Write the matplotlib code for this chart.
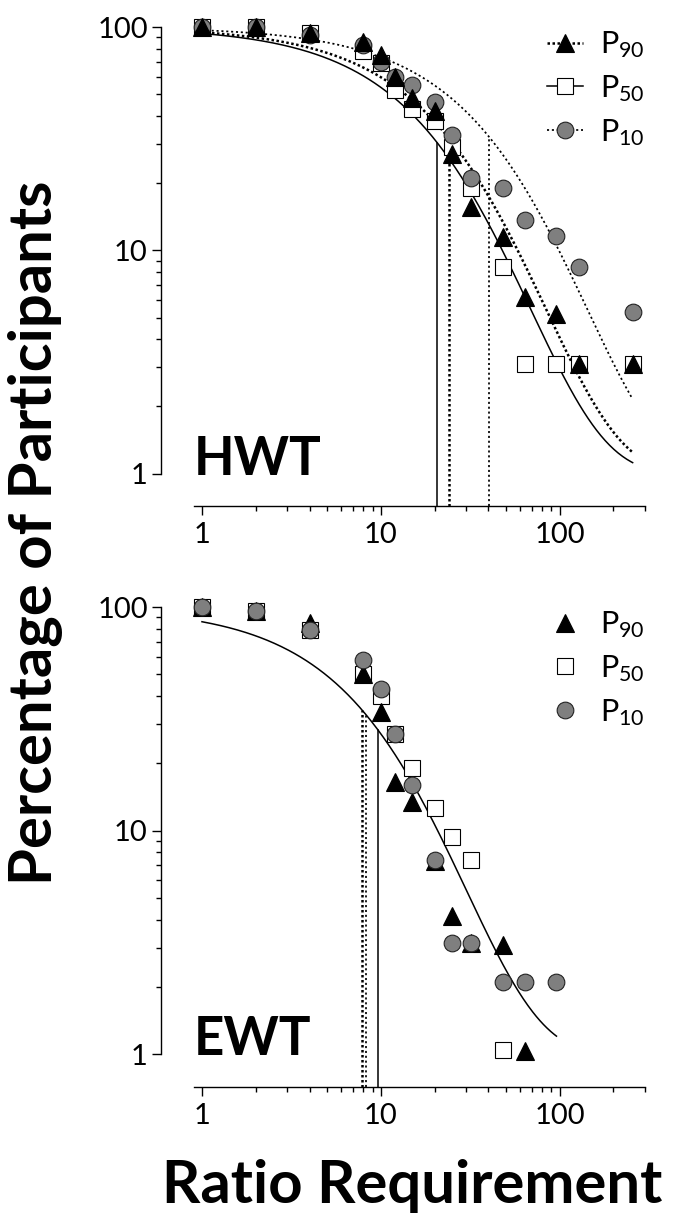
import numpy as np
import matplotlib
matplotlib.use("Agg")
import matplotlib.pyplot as plt
from matplotlib.lines import Line2D

plt.rcParams['font.family'] = ['Lato', 'DejaVu Sans']

# ratio requirements (x)
ratio = [1, 2, 4, 8, 10, 12, 15, 20, 25, 32, 48, 64, 96, 128, 256]

# HWT panel, percentage of participants
hwt_p90 = [100, 100, 94, 86, 75, 60, 48, 42, 27, 15.6, 11.5, 6.2, 5.2, 3.1, 3.1]
hwt_p50 = [100, 100, 94, 78, 69, 52, 43, 38, 29, 19, 8.4, 3.1, 3.1, 3.1, 3.1]
hwt_p10 = [100, 100, 92, 83, 70, 60, 55, 46, 33, 21, 19, 13.7, 11.6, 8.4, 5.3]

# EWT panel
ewt_p90 = [100, 96, 85, 50, 34, 16.6, 13.5, 7.3, 4.15, 3.15, 3.1, 1.04]
ewt_p50 = [100, 96, 79, 50, 40, 27, 19, 12.6, 9.4, 7.4, 1.05]
ewt_p10 = [100, 96, 79, 58, 43, 27, 16, 7.4, 3.15, 3.15, 2.1, 2.1, 2.1]

# exponential demand fits (Q0, k, alpha*Q0) and Pmax lines
q0 = 100
k = 2
hwt_alpha = {"P90": 0.0119, "P50": 0.0145, "P10": 0.0070}
hwt_pmax = {"P90": 24.0, "P50": 20.7, "P10": 40.2}
hwt_curve_end = 256
ewt_alpha = 0.0333
ewt_pmax = {"P90": 7.86, "P50": 9.66, "P10": 8.28}
ewt_curve_end = 96


def demand(x, alpha):
	x = np.asarray(x, dtype=float)
	return 10 ** (np.log10(q0) + k * (np.exp(-alpha * x) - 1))


line_style = {
	"P90": dict(ls=(0, (1, 1)), lw=1.8),
	"P50": dict(ls="-", lw=1.1),
	"P10": dict(ls=(0, (1.2, 1.6)), lw=1.25),
}
marker_style = {
	"P90": dict(marker="^", ms=12.5, mfc="black", mec="black", mew=0.8),
	"P50": dict(marker="s", ms=11.5, mfc="white", mec="black", mew=0.8),
	"P10": dict(marker="o", ms=12, mfc="#7f7f7f", mec="#222222", mew=0.8),
}
zorders = {"P90": 6, "P50": 4, "P10": 5}
labels = {"P90": r"$\mathregular{P_{90}}$", "P50": r"$\mathregular{P_{50}}$",
		  "P10": r"$\mathregular{P_{10}}$"}


def style_axes(ax):
	ax.set_xscale("log")
	ax.set_yscale("log")
	ax.set_xlim(0.59, 300)
	ax.set_ylim(0.715, 100)
	for s in ["top", "right"]:
		ax.spines[s].set_visible(False)
	ax.spines["left"].set_bounds(1, 100)
	ax.spines["bottom"].set_bounds(0.9, 300)
	for s in ["left", "bottom"]:
		ax.spines[s].set_linewidth(1.0)
	ax.set_xticks([1, 10, 100])
	ax.set_xticklabels(["1", "10", "100"])
	ax.set_xticks([2, 3, 4, 5, 6, 7, 8, 9, 20, 30, 40, 50, 60, 70, 80, 90, 200, 300], minor=True)
	ax.set_xticklabels([], minor=True)
	ax.set_yticks([1, 10, 100])
	ax.set_yticklabels(["1", "10", "100"])
	ax.set_yticks([2, 3, 4, 5, 6, 7, 8, 9, 20, 30, 40, 50, 60, 70, 80, 90], minor=True)
	ax.set_yticklabels([], minor=True)
	ax.tick_params(which="major", length=6.5, width=1.0, labelsize=21, direction="out")
	ax.tick_params(which="minor", length=3.3, width=1.0, direction="out")
	ax.tick_params(axis="x", which="major", pad=5)
	ax.tick_params(axis="y", which="major", pad=3)


def add_legend(ax, handles):
	ax.legend(handles, [labels[k_] for k_ in ["P90", "P50", "P10"]], loc="upper right",
			  bbox_to_anchor=(1.0, 0.995), frameon=False, fontsize=22, handlelength=1.2,
			  handletextpad=0.55, labelspacing=0.42, borderaxespad=0, borderpad=0)


fig = plt.figure(figsize=(6.75, 12.2), dpi=100)
ax1 = fig.add_axes([0.2385, 0.5852, 0.7170, 0.3926])
ax2 = fig.add_axes([0.2385, 0.1090, 0.7170, 0.3934])

# HWT
hwt = {"P90": hwt_p90, "P50": hwt_p50, "P10": hwt_p10}
for key in ["P90", "P50", "P10"]:
	xs = np.geomspace(1, hwt_curve_end, 300)
	ax1.plot(xs, demand(xs, hwt_alpha[key]), color="black", zorder=2, **line_style[key])
	pm = hwt_pmax[key]
	ax1.plot([pm, pm], [0.715, demand(pm, hwt_alpha[key])], color="black", zorder=2, **line_style[key])
	ax1.plot(ratio[:len(hwt[key])], hwt[key], ls="none", clip_on=False,
			 zorder=zorders[key], **marker_style[key])

add_legend(ax1, [Line2D([], [], color="black", **line_style[key], **marker_style[key])
				 for key in ["P90", "P50", "P10"]])
ax1.text(0.9, 0.99, "HWT", fontsize=38, fontweight="bold", ha="left", va="baseline")

# EWT
ewt = {"P90": ewt_p90, "P50": ewt_p50, "P10": ewt_p10}
xs = np.geomspace(1, ewt_curve_end, 300)
ax2.plot(xs, demand(xs, ewt_alpha), color="black", zorder=2, **line_style["P50"])
for key in ["P90", "P50", "P10"]:
	pm = ewt_pmax[key]
	ax2.plot([pm, pm], [0.715, demand(pm, ewt_alpha)], color="black", zorder=2, **line_style[key])
ewt_z = {"P90": 5, "P50": 4, "P10": 6}
for key in ["P90", "P50", "P10"]:
	ax2.plot(ratio[:len(ewt[key])], ewt[key], ls="none", clip_on=False,
			 zorder=ewt_z[key], **marker_style[key])

add_legend(ax2, [Line2D([], [], ls="none", **marker_style[key]) for key in ["P90", "P50", "P10"]])
ax2.text(0.9, 0.99, "EWT", fontsize=38, fontweight="bold", ha="left", va="baseline")

for ax in [ax1, ax2]:
	style_axes(ax)

fig.text(0.052, 0.563, "Percentage of Participants", rotation=90, ha="center", va="center",
		 fontsize=43, fontweight="bold")
fig.text(0.61, 0.0139, "Ratio Requirement", ha="center", va="baseline",
		 fontsize=43, fontweight="bold")

fig.savefig("out.png", dpi=100)
